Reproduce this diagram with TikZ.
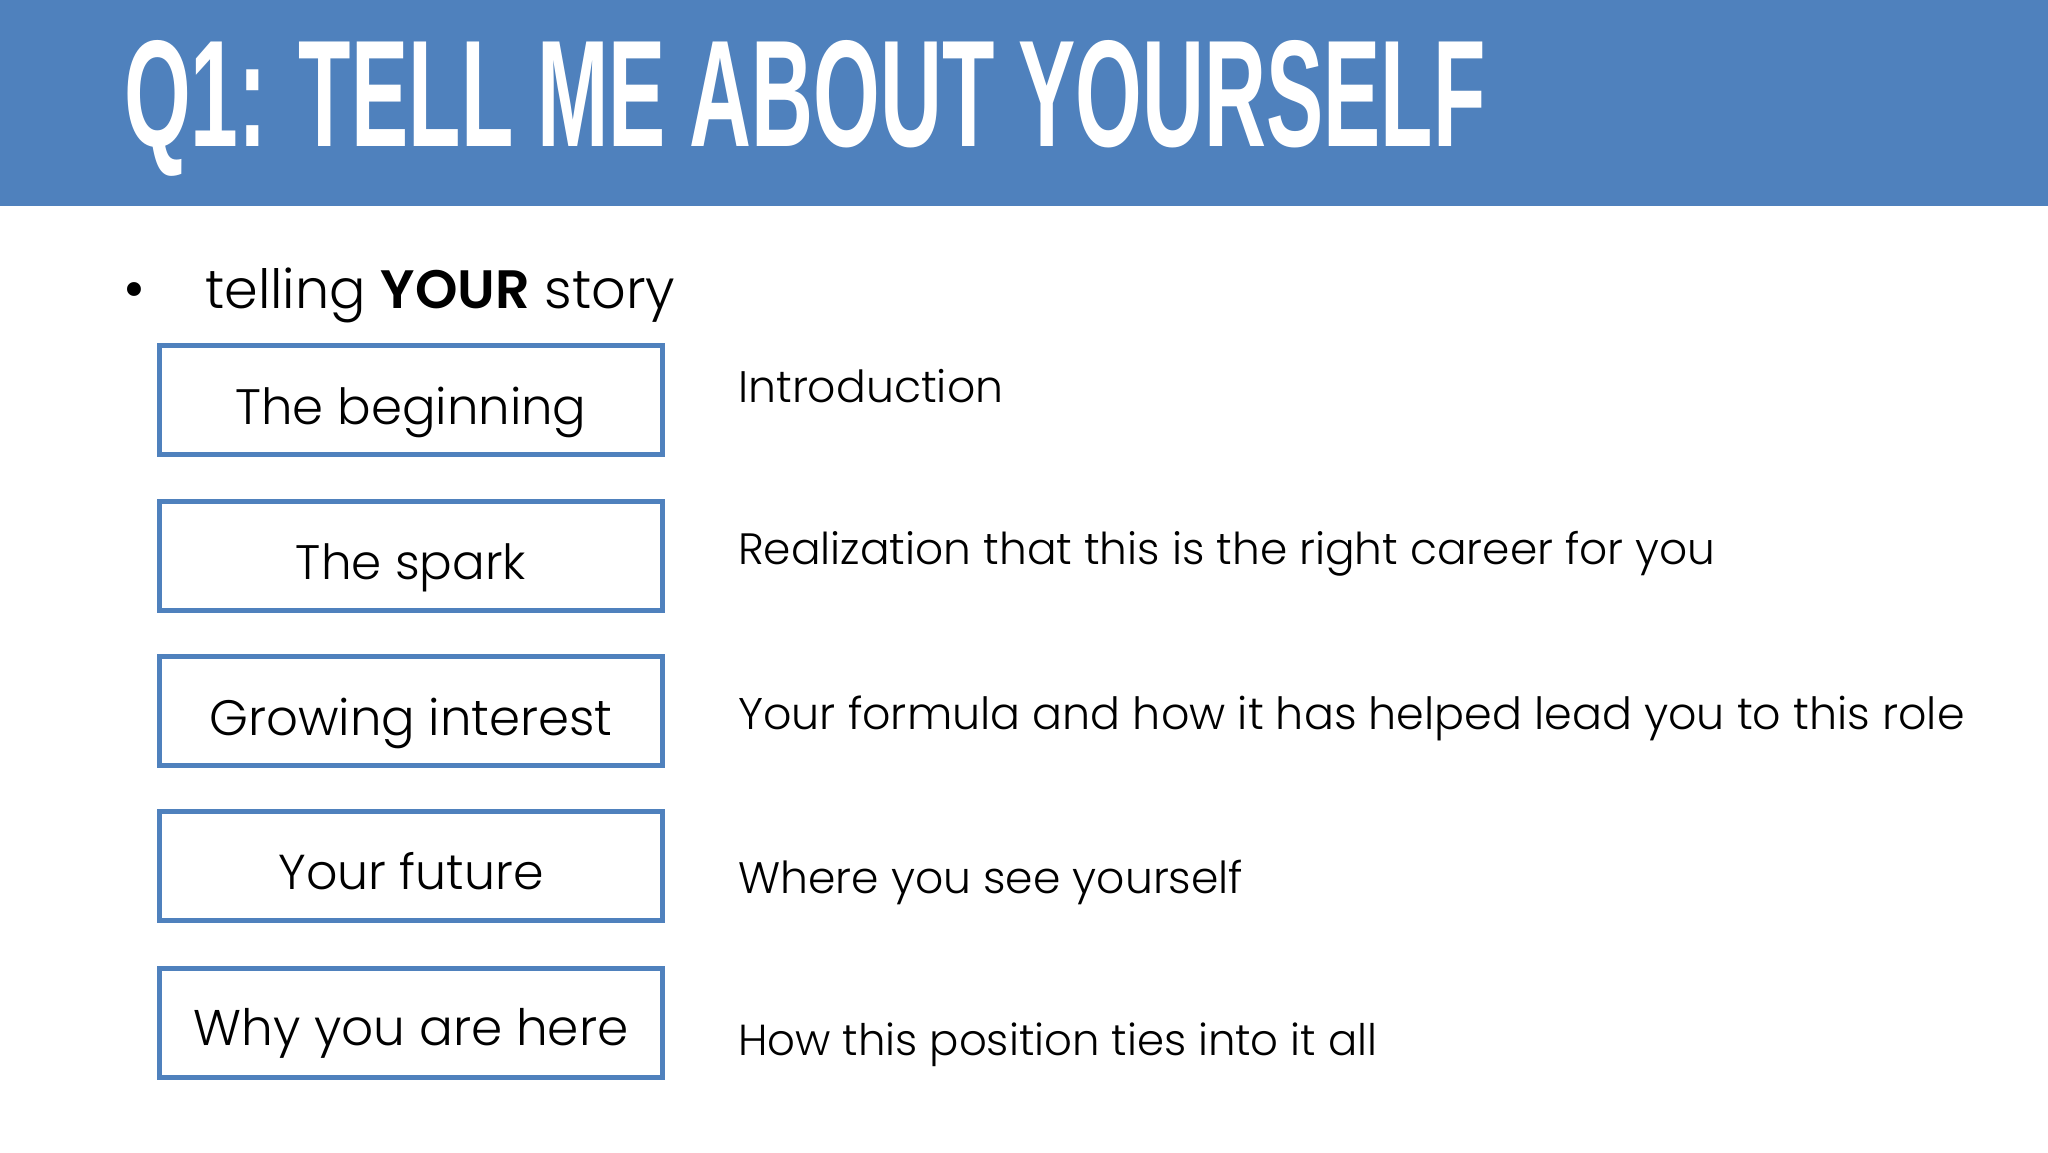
\documentclass[tikz,border=0pt]{standalone}
\usepackage{fontspec}
\usepackage{graphicx}
\setmainfont{Poppins Light}[BoldFont={Poppins SemiBold}]
\newfontfamily\titlefont{Liberation Sans}
\definecolor{hdrblue}{HTML}{4F81BD}
\tikzset{
  stepbox/.style={draw=hdrblue,line width=5pt,fill=white,minimum width=503pt,minimum height=109pt,inner sep=0pt},
  boxtxt/.style={anchor=base,inner sep=0pt,text=black},
  desc/.style={anchor=base west,inner sep=0pt,text=black}
}
\begin{document}
\begin{tikzpicture}[x=1pt,y=-1pt]
\useasboundingbox (0,0) rectangle (2048,1152);
\fill[white] (0,0) rectangle (2048,1152);
\fill[hdrblue] (0,0) rectangle (2048,206);
\node[anchor=base west,inner sep=0pt,text=white] (title) at (124,146)
  {\resizebox{1361pt}{106pt}{\titlefont\bfseries Q1: TELL ME ABOUT YOURSELF}};
\node[anchor=center,inner sep=0pt] (bullet) at (134,296) {\fontsize{60}{60}\selectfont\textbullet};
\node[desc] (sub) at (205,308) {\resizebox{470pt}{!}{telling \textbf{YOUR} story}};

\node[stepbox] (b1) at (411,400) {};
\node[stepbox] (b2) at (411,556) {};
\node[stepbox] (b3) at (411,711) {};
\node[stepbox] (b4) at (411,866) {};
\node[stepbox] (b5) at (411,1023) {};

\node[boxtxt] (t1) at (411,424) {\resizebox{351pt}{!}{The beginning}};
\node[boxtxt] (t2) at (411,579) {\resizebox{230pt}{!}{The spark}};
\node[boxtxt] (t3) at (411,735) {\resizebox{403pt}{!}{Growing interest}};
\node[boxtxt] (t4) at (411,889) {\resizebox{265pt}{!}{Your future}};
\node[boxtxt] (t5) at (411,1045) {\resizebox{435pt}{!}{Why you are here}};

\node[desc] (d1) at (738,402) {\resizebox{265pt}{!}{Introduction}};
\node[desc] (d2) at (738,564) {\resizebox{977pt}{!}{Realization that this is the right career for you}};
\node[desc] (d3) at (738,729) {\resizebox{1226pt}{!}{Your formula and how it has helped lead you to this role}};
\node[desc] (d4) at (738,893) {\resizebox{505pt}{!}{Where you see yourself}};
\node[desc] (d5) at (738,1055) {\resizebox{639pt}{!}{How this position ties into it all}};
\end{tikzpicture}
\end{document}
